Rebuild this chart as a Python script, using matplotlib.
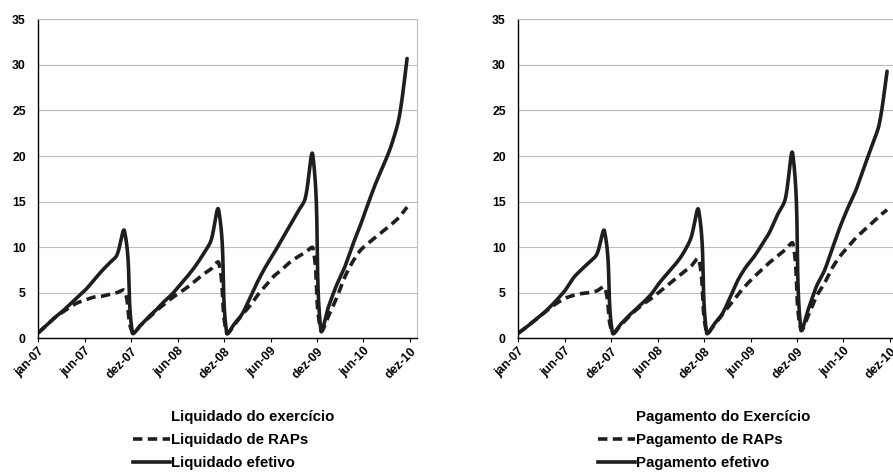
import numpy as np
import matplotlib
matplotlib.use("Agg")
import matplotlib.pyplot as plt
from matplotlib.lines import Line2D

plt.rcParams['font.family'] = ['Liberation Sans', 'DejaVu Sans']
plt.rcParams['font.weight'] = 'bold'

tick_labels = ['jan-07', 'jun-07', 'dez-07', 'jun-08', 'dez-08',
               'jun-09', 'dez-09', 'jun-10', 'dez-10']

# monthly values, jan-07 .. dez-10
liq_efetivo = [0.6, 1.4, 2.2, 2.9, 3.7, 4.5, 5.3, 6.3, 7.3, 8.2, 9.1, 11.7,
               0.6, 1.4, 2.3, 3.1, 4.0, 4.8, 5.8, 6.8, 7.9, 9.2, 10.7, 14.0,
               0.6, 1.6, 2.7, 4.5, 6.3, 7.9, 9.3, 10.8, 12.3, 13.8, 15.3, 20.0,
               0.9, 3.5, 5.8, 7.7, 10.1, 12.3, 14.7, 17.0, 19.0, 21.2, 24.3, 30.7]
liq_raps = [0.6, 1.4, 2.2, 2.8, 3.4, 3.9, 4.2, 4.5, 4.6, 4.8, 5.0, 5.2,
            0.6, 1.4, 2.2, 3.0, 3.7, 4.4, 5.0, 5.6, 6.3, 7.0, 7.6, 8.3,
            0.6, 1.5, 2.6, 3.6, 4.8, 5.8, 6.8, 7.5, 8.3, 8.9, 9.4, 9.9,
            0.9, 2.5, 4.4, 6.6, 8.3, 9.6, 10.4, 11.1, 11.8, 12.5, 13.3, 14.4]

pag_efetivo = [0.55, 1.2, 1.9, 2.6, 3.4, 4.3, 5.3, 6.6, 7.5, 8.3, 9.2, 11.7,
               0.6, 1.5, 2.4, 3.2, 4.0, 4.9, 6.1, 7.1, 8.1, 9.3, 11.0, 14.0,
               0.6, 1.6, 2.7, 4.5, 6.4, 7.8, 8.9, 10.2, 11.6, 13.5, 15.2, 20.1,
               1.0, 3.3, 5.7, 7.4, 9.8, 12.2, 14.3, 16.2, 18.6, 21.0, 23.5, 29.3]
pag_raps = [0.55, 1.2, 1.9, 2.6, 3.3, 3.9, 4.4, 4.7, 4.9, 5.0, 5.2, 5.6,
            0.6, 1.4, 2.3, 3.1, 3.8, 4.4, 5.1, 5.8, 6.5, 7.2, 7.9, 8.7,
            0.6, 1.5, 2.6, 3.7, 4.8, 5.8, 6.7, 7.5, 8.3, 9.0, 9.7, 10.4,
            1.0, 2.6, 4.6, 6.0, 7.7, 9.0, 10.0, 11.0, 11.8, 12.6, 13.4, 14.1]


def smooth(y, sx=7.85, sy=9.11, n=30):
    # bezier smoothing (excel style), tangents scaled by segment length on screen
    p = np.column_stack([np.arange(len(y)) * sx, np.asarray(y, float) * sy])
    pe = np.vstack([p[0], p, p[-1]])
    v = pe[2:] - pe[:-2]
    u = v / np.linalg.norm(v, axis=1)[:, None]
    t = np.linspace(0, 1, n, endpoint=False)[:, None]
    out = []
    for i in range(len(p) - 1):
        L = np.linalg.norm(p[i + 1] - p[i]) / 3.0
        c1 = p[i] + u[i] * L
        c2 = p[i + 1] - u[i + 1] * L
        b = ((1 - t)**3 * p[i] + 3 * (1 - t)**2 * t * c1
             + 3 * (1 - t) * t**2 * c2 + t**3 * p[i + 1])
        out.append(b)
    out.append(p[-1:])
    out = np.vstack(out)
    return out[:, 0] / sx, out[:, 1] / sy


col = '#1e1e1e'
dash = (0, (2.6, 1.5))
lw = 2.6

fig = plt.figure(figsize=(8.93, 4.72), dpi=100)
ax1 = fig.add_axes([0.0429, 0.2833, 0.4244, 0.6758])
ax2 = fig.add_axes([0.5804, 0.2833, 0.4244, 0.6758])

panels = [
    (ax1, liq_raps, liq_efetivo,
     ['Liquidado do exercício', 'Liquidado de RAPs', 'Liquidado efetivo'], 0.25),
    (ax2, pag_raps, pag_efetivo,
     ['Pagamento do Exercício', 'Pagamento de RAPs', 'Pagamento efetivo'], 0.21),
]

for ax, raps, efet, names, lx in panels:
    xs, ys = smooth(raps)
    ax.plot(xs, ys, color=col, lw=lw, ls=dash, solid_capstyle='butt')
    xs, ys = smooth(efet)
    ax.plot(xs, ys, color=col, lw=lw, solid_capstyle='round')

    ax.set_xlim(0, 48.3)
    ax.set_ylim(0, 35)
    ax.set_yticks(range(0, 36, 5))
    ax.set_xticks(np.linspace(0, 47.35, 9))
    ax.set_xticklabels(tick_labels, rotation=45, ha='right', va='top',
                       rotation_mode='anchor')
    ax.tick_params(axis='x', length=3, width=0.8, labelsize=8.8, pad=2)
    ax.tick_params(axis='y', length=0, labelsize=8.8, pad=9)
    ax.grid(axis='y', color='#bdbdbd', lw=0.8)
    ax.set_axisbelow(True)
    for s in ['top', 'right']:
        ax.spines[s].set_color('#bdbdbd')
        ax.spines[s].set_linewidth(0.8)
    for s in ['left', 'bottom']:
        ax.spines[s].set_color('black')
        ax.spines[s].set_linewidth(1.0)

    handles = [Line2D([], [], color='none'),
               Line2D([], [], color=col, lw=lw, ls=dash),
               Line2D([], [], color=col, lw=lw)]
    ax.legend(handles, names, loc='upper left', bbox_to_anchor=(lx, -0.226),
              frameon=False, borderpad=0, borderaxespad=0, fontsize=10.8,
              handlelength=2.45, handletextpad=0.1, labelspacing=0.6)

fig.savefig('out.png', dpi=100)
